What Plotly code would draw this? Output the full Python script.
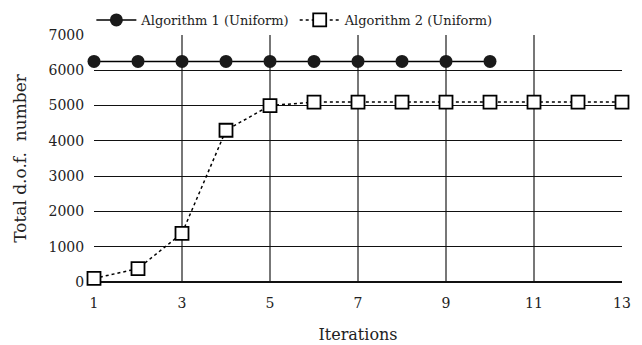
import plotly.graph_objects as go

iter1 = [1, 2, 3, 4, 5, 6, 7, 8, 9, 10]
alg1 = [6250, 6250, 6250, 6250, 6250, 6250, 6250, 6250, 6250, 6250]
iter2 = [1, 2, 3, 4, 5, 6, 7, 8, 9, 10, 11, 12, 13]
alg2 = [100, 380, 1380, 4300, 5000, 5100, 5100, 5100, 5100, 5100, 5100, 5100, 5100]
xticks = [1, 3, 5, 7, 9, 11, 13]
yticks = [0, 1000, 2000, 3000, 4000, 5000, 6000, 7000]

FONT = "DejaVu Serif"

fig = go.Figure()
fig.add_trace(go.Scatter(
    x=iter1, y=alg1, mode="lines+markers", name="Algorithm 1 (Uniform)",
    line=dict(color="black", width=1.5),
    marker=dict(symbol="circle", size=13, color="#1a1a1a"),
    cliponaxis=False,
))
fig.add_trace(go.Scatter(
    x=iter2, y=alg2, mode="lines+markers", name="Algorithm 2 (Uniform)",
    line=dict(color="black", width=1.5, dash="dot"),
    marker=dict(symbol="square", size=13, color="white", line=dict(color="black", width=1.8)),
    cliponaxis=False,
))

fig.update_layout(
    width=642, height=345,
    margin=dict(l=86, r=28, t=27, b=71, autoexpand=False),
    paper_bgcolor="white", plot_bgcolor="white",
    font=dict(family=FONT, size=14, color="#222"),
    showlegend=True,
    legend=dict(orientation="h", x=-0.005, xanchor="left", y=1.0, yanchor="bottom",
                font=dict(family=FONT, size=13), itemwidth=40, tracegroupgap=0),
    xaxis=dict(
        range=[1, 13], tickvals=xticks, ticktext=[str(v) for v in xticks],
        showgrid=True, gridcolor="#777", gridwidth=1.5,
        zeroline=False, showline=False, automargin=False,
        ticks="outside", ticklen=8, tickcolor="rgba(0,0,0,0)",
        tickfont=dict(family=FONT, size=14),
        title=dict(text="Iterations", standoff=19, font=dict(family=FONT, size=16)),
    ),
    yaxis=dict(
        range=[0, 7000], tickvals=yticks, ticktext=[str(v) for v in yticks],
        showgrid=True, gridcolor="#111", gridwidth=1,
        zeroline=True, zerolinecolor="#111", zerolinewidth=1.5, showline=False, automargin=False,
        ticks="outside", ticklen=6, tickcolor="rgba(0,0,0,0)",
        tickfont=dict(family=FONT, size=14),
        title=dict(text="Total d.o.f.&nbsp;&nbsp;number", standoff=17, font=dict(family=FONT, size=17)),
    ),
)

fig.write_html("out.html")
